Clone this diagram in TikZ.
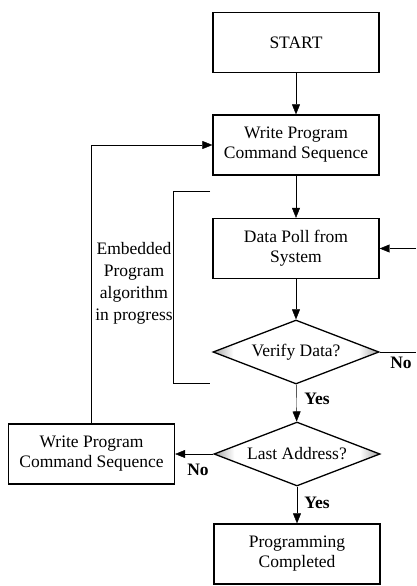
\documentclass[tikz,border=0pt]{standalone}
\usepackage{fontspec}
\setmainfont{Liberation Serif}
\usetikzlibrary{arrows.meta,shapes.geometric,backgrounds}
\begin{document}
\begin{tikzpicture}[x=1pt,y=-1pt,
  line width=1.3pt,
  >={Triangle[length=10pt,width=8pt]},
  txt/.style={font=\fontsize{17.5}{20}\selectfont},
  procbox/.style={txt, draw, rectangle, minimum width=166pt, minimum height=60pt,
    inner sep=0pt, align=center},
  decide/.style={txt, draw, diamond, aspect=2.6, minimum width=166pt, minimum height=64pt,
    inner sep=0pt},
  lbl/.style={inner sep=0pt, font=\fontsize{17.5}{20}\selectfont\bfseries},
  tipshade/.style={draw=none}
]
\useasboundingbox (0,0) rectangle (416,586);

% process boxes and decisions
\node[procbox] (start)  at (296,42.5)  {START};
\node[procbox] (write1) at (296,145)   {Write Program\\Command Sequence};
\node[procbox] (poll)   at (296,248.5) {Data Poll from\\System};
\node[decide]  (verify) at (296,352)   {Verify Data?};
\node[decide]  (last)   at (297,454)   {Last Address?};
\node[procbox] (write2) at (91.5,454)  {Write Program\\Command Sequence};
\node[procbox] (done)   at (297,554)   {Programming\\Completed};

% shaded tips of the decision diamonds
\begin{pgfonlayer}{background}
  \shade[tipshade, left color=gray!75, right color=white]
    (verify.west) -- ++(21,-8) -- ++(0,16) -- cycle;
  \shade[tipshade, left color=white, right color=gray!75]
    (verify.east) -- ++(-21,-8) -- ++(0,16) -- cycle;
  \shade[tipshade, left color=gray!75, right color=white]
    (last.west) -- ++(21,-8) -- ++(0,16) -- cycle;
  \shade[tipshade, left color=white, right color=gray!75]
    (last.east) -- ++(-21,-8) -- ++(0,16) -- cycle;
\end{pgfonlayer}

% main flow
\draw[->] (start) -- (write1);
\draw[->] (write1) -- (poll);
\draw[->] (poll) -- (verify);
\draw[->] (verify) -- (last);
\draw[->] (last) -- (done);
\draw[->] (last) -- (write2);
\draw[->] (write2.north) |- (write1.west);

% retry loop entering from the right
\coordinate (retryin) at (416,248.5);
\coordinate (retryout) at (416,352);
\draw[->] (retryin) -- (poll.east);
\draw (verify.east) -- (retryout);

% bracket around the embedded algorithm
\coordinate (bra) at (210,191);
\coordinate (brb) at (173,191);
\coordinate (brc) at (173,383);
\coordinate (brd) at (210,383);
\draw (bra) -- (brb) -- (brc) -- (brd);
\node[align=center, inner sep=0pt, font=\fontsize{17.5}{22}\selectfont] (embed)
  at (134,283) {Embedded\\Program\\algorithm\\in progress};

% branch labels
\node[lbl] (yes1) at (317,399) {Yes};
\node[lbl] (no1)  at (401,363) {No};
\node[lbl] (no2)  at (198,470) {No};
\node[lbl] (yes2) at (317,503) {Yes};
\end{tikzpicture}
\end{document}
